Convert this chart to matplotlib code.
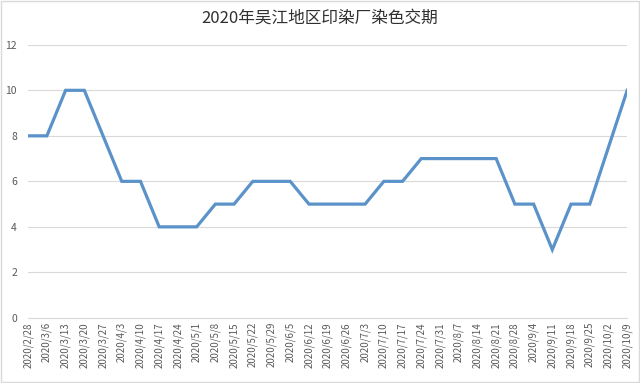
import matplotlib
matplotlib.use("Agg")
import matplotlib.pyplot as plt
import numpy as np

plt.rcParams['font.family'] = ['Noto Sans CJK SC', 'DejaVu Sans']

dates = ["2020/2/28", "2020/3/6", "2020/3/13", "2020/3/20", "2020/3/27", "2020/4/3",
         "2020/4/10", "2020/4/17", "2020/4/24", "2020/5/1", "2020/5/8", "2020/5/15",
         "2020/5/22", "2020/5/29", "2020/6/5", "2020/6/12", "2020/6/19", "2020/6/26",
         "2020/7/3", "2020/7/10", "2020/7/17", "2020/7/24", "2020/7/31", "2020/8/7",
         "2020/8/14", "2020/8/21", "2020/8/28", "2020/9/4", "2020/9/11", "2020/9/18",
         "2020/9/25", "2020/10/2", "2020/10/9"]
days = [8, 8, 10, 10, 8, 6, 6, 4, 4, 4, 5, 5, 6, 6, 6, 5, 5, 5, 5, 6, 6, 7,
        7, 7, 7, 7, 5, 5, 3, 5, 5, 7.5, 10]
title = "2020年吴江地区印染厂染色交期"

fig = plt.figure(figsize=(6.4, 3.83), dpi=100)
ax = fig.add_axes([0.044, 0.170, 0.936, 0.713])

x = np.arange(len(dates))
ax.plot(x, days, color="#5A92C9", linewidth=2.3, solid_joinstyle="miter")

ax.set_xlim(0, len(dates) - 1)
ax.set_ylim(0, 12)
ax.set_yticks(range(0, 13, 2))
ax.set_xticks(x)
ax.set_xticklabels(dates, rotation=90, fontsize=7, color="#595959")
ax.tick_params(axis="y", labelsize=7.5, labelcolor="#595959", length=0, pad=8)
ax.tick_params(axis="x", length=0, pad=3)
ax.grid(axis="y", color="#D9D9D9", linewidth=0.8)
ax.set_axisbelow(True)
for s in ["top", "right", "left"]:
    ax.spines[s].set_visible(False)
ax.spines["bottom"].set_color("#D9D9D9")

fig.text(0.5, 0.953, title, ha="center", va="center", fontsize=12, color="#303030")

# light frame around the chart
fig.patches.append(plt.Rectangle((0.002, 0.003), 0.996, 0.994, transform=fig.transFigure,
                                 fill=False, edgecolor="#D9D9D9", linewidth=1))

fig.savefig("out.png", dpi=100)
